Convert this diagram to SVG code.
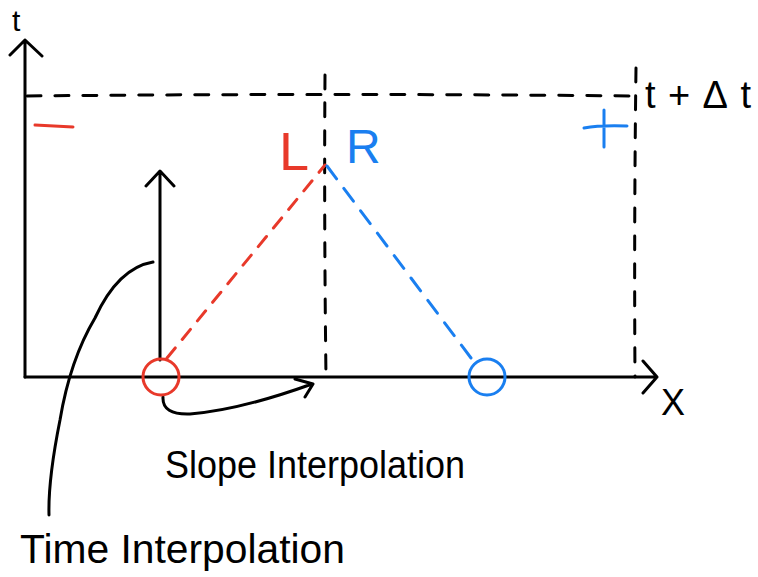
<svg xmlns="http://www.w3.org/2000/svg" width="758" height="577" viewBox="0 0 758 577">
<style>
.k{stroke:#000;stroke-width:3;fill:none;stroke-linecap:round;stroke-linejoin:round}
.d{stroke-dasharray:14 14}
.r{stroke:#e8392a;stroke-width:3;fill:none;stroke-linecap:round}
.b{stroke:#1a7ff0;stroke-width:3;fill:none;stroke-linecap:round}
.t{font-family:"Liberation Sans","DejaVu Sans",sans-serif;fill:#000}
</style>
<rect width="758" height="577" fill="#fff"/>
<g id="guides">
<path class="k d" d="M27 96 Q330 93 637 96"/>
<path class="k d" d="M325 75 Q324 220 326 377"/>
<path class="k d" d="M636 68 Q634 220 635 377"/>
</g>
<g id="axes">
<path class="k" d="M25 377 L25 40 M10 55 L25 40 L42 56"/>
<path class="k" d="M25 377 L657 377 M643 361 L657 377 L643 393"/>
<text class="t" x="12" y="31" font-size="30">t</text>
<text class="t" x="661" y="415" font-size="36">X</text>
<text class="t" x="645" y="108" font-size="38" textLength="106" lengthAdjust="spacing">t+Δt</text>
</g>
<g id="signs">
<path class="r" d="M35 125 L73 127"/>
<path class="b" d="M584 128 Q600 125 627 126 M604 110 L604 147"/>
</g>
<g id="labels">
<text x="279" y="170" font-size="54" font-family="Liberation Sans,sans-serif" fill="#e8392a">L</text>
<text x="346" y="163" font-size="48" font-family="Liberation Sans,sans-serif" fill="#1a7ff0">R</text>
</g>
<g id="connectors">
<path class="r" d="M167 358 L325 165" stroke-dasharray="13 11"/>
<path class="b" d="M327 166 L474 362" stroke-dasharray="16 12"/>
<path class="k" d="M160 360 L160 172 M146 186 L160 171 L174 186"/>
<path class="k" d="M163 397 Q162 415 190 414 Q240 410 312 384 M295 379 L313 384 L305 397"/>
<path class="k" d="M153 262 Q118 268 95 318 Q70 360 60 420 Q48 480 49 515"/>
</g>
<g id="nodes">
<circle id="left-cell" cx="161" cy="377" r="18" class="r"/>
<circle id="right-cell" cx="487" cy="377" r="18" class="b"/>
</g>
<g id="captions">
<text class="t" x="165" y="478" font-size="38" textLength="300" lengthAdjust="spacingAndGlyphs">Slope Interpolation</text>
<text class="t" x="20" y="563" font-size="40" textLength="325" lengthAdjust="spacingAndGlyphs">Time Interpolation</text>
</g>
</svg>
